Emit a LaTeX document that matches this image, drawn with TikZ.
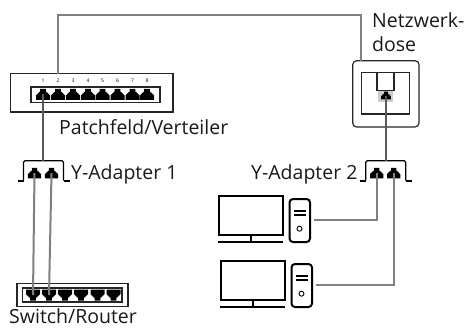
\documentclass[tikz,border=0pt]{standalone}
\usepackage{fontspec}
\setmainfont{Open Sans}
\tikzset{
	box/.style={draw=black!85,line width=1.2pt},
	cable/.style={draw=black!50,line width=2pt},
	thincable/.style={draw=black!65,line width=1.3pt},
	label/.style={inner sep=0pt,font=\fontsize{19.5}{24}\selectfont,text=black!90},
	portno/.style={inner sep=0pt,font=\fontsize{5}{6}\selectfont},
	rjport/.pic={
		\fill (-7,5.5)--(7,5.5)--(7,1)--(3.5,-2.5)--(2.8,-2.5)--(2.8,-5.5)--(-2.8,-5.5)--(-2.8,-2.5)--(-3.5,-2.5)--(-7,1)--cycle;
		\coordinate (-c) at (0,0);
	},
	rjdown/.pic={
		\fill (-7,-5.5)--(7,-5.5)--(7,-1)--(3.5,2.5)--(2.8,2.5)--(2.8,5.5)--(-2.8,5.5)--(-2.8,2.5)--(-3.5,2.5)--(-7,-1)--cycle;
		\coordinate (-c) at (0,0);
	},
	adapter/.pic={
		\draw[line width=1.2pt,rounded corners=1.5pt] (-20,20)--(-20,0)--(20,0)--(20,20);
		\draw[line width=2pt] (-26,20)--(-20,20) (20,20)--(26,20);
		\coordinate (-top) at (0,0);
		\pic[scale=0.95] (-l) at (-9,12.5) {rjport};
		\pic[scale=0.95] (-r) at (8,12.5) {rjport};
	},
	computer/.pic={
		\draw[line width=2pt] (0,0) rectangle (64,39);
		\draw[line width=2pt] (32,39)--(32,45.5) (-1,45.5)--(64,45.5);
		\draw[line width=2pt,rounded corners=3.5pt] (70.5,3) rectangle (91,46);
		\draw[line width=2pt] (75,15)--(87,15) (75,19)--(87,19);
		\draw[line width=0.9pt] (80.5,32.7) circle (2.5);
		\coordinate (-c) at (95,23.5);
	},
}
\begin{document}
\begin{tikzpicture}[x=1pt,y=-1pt]
	\useasboundingbox (0,0) rectangle (468,327);
	% patch panel
	\draw[box] (10.5,73.5) rectangle (173,112);
	\draw[box] (31,87) rectangle (160,102.6);
	\coordinate (paneltop) at (58,73.5);
	\foreach \i/\px in {1/43,2/58,3/73,4/88,5/102.5,6/117.5,7/132.5,8/147}{
		\node[portno] (no\i) at (\px,81) {\i};
		\pic (pp\i) at (\px,94.3) {rjport};
	}
	\node[label,anchor=base west] (panellabel) at (59,134) {Patchfeld/Verteiler};
	% outlet
	\draw[box,rounded corners=4pt] (352.7,60.7) rectangle (419,127);
	\draw[box] (361.7,72.5) rectangle (409.5,114);
	\draw[box] (377,72.5) rectangle (394,90.5);
	\fill[black!20] (378,91) rectangle (393,102);
	\pic[scale=0.7] (wall) at (386,95.5) {rjport};
	\coordinate (walltop) at (361,60.7);
	\node[label,anchor=base west] (walllabel1) at (372,27) {Netzwerk-};
	\node[label,anchor=base west] (walllabel2) at (372,51) {dose};
	% adapters
	\pic (adA) at (43.5,160.7) {adapter};
	\pic (adB) at (385.7,160.7) {adapter};
	\node[label,anchor=base west] (adAlabel) at (71,179) {Y-Adapter 1};
	\node[label,anchor=base west] (adBlabel) at (251,179) {Y-Adapter 2};
	% switch
	\draw[box] (17,283.5) rectangle (128,306.7);
	\draw[box] (22.5,288) rectangle (122,302);
	\foreach \i/\px in {1/33,2/49,3/65,4/81,5/97.5,6/113.5}{
		\pic (sw\i) at (\px,295) {rjdown};
	}
	\node[label,anchor=base west] (swlabel) at (9,323.5) {Switch/Router};
	% computers
	\pic (pcA) at (219,196) {computer};
	\pic (pcB) at (221,261) {computer};
	% cables
	\draw[cable] (paneltop) -- (58,15) -| (walltop);
	\draw[thincable] (pp1-c) -- (adA-top -| pp1-c);
	\draw[thincable] (wall-c) -- (adB-top -| wall-c);
	\draw[cable] (adA-l-c) -- (sw1-c);
	\draw[cable] (adA-r-c) -- (sw2-c);
	\draw[cable] (adB-l-c) |- (pcA-c);
	\draw[cable] (adB-r-c) |- (pcB-c);
\end{tikzpicture}
\end{document}
